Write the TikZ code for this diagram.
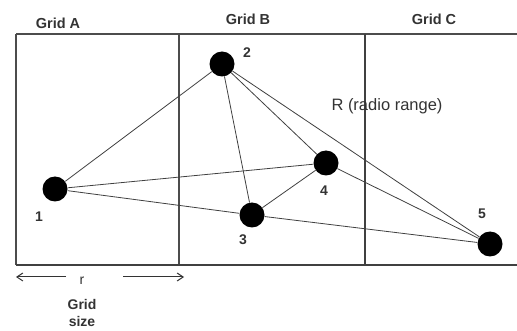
\documentclass[tikz,border=0pt]{standalone}
\usepackage{fontspec}
\setmainfont{Liberation Sans}
\usetikzlibrary{arrows.meta}
\begin{document}
\begin{tikzpicture}[x=1pt,y=-1pt,
  dot/.style={circle,fill=black,minimum size=25pt,inner sep=0pt},
  link/.style={draw=black!75,line width=0.8pt},
  gridline/.style={draw=black!70,line width=1.2pt},
  thickline/.style={draw=black!75,line width=2pt},
  numlbl/.style={font=\bfseries\fontsize{14}{16}\selectfont,text=black!80,inner sep=0pt},
  gridlbl/.style={font=\bfseries\fontsize{14.5}{17}\selectfont,text=black!80,inner sep=0pt},
  plainlbl/.style={font=\fontsize{16.5}{19}\selectfont,text=black!80,inner sep=0pt},
  dim/.style={draw=black!80,line width=1pt,-{Straight Barb[length=6pt,width=8pt]}}]
\useasboundingbox (0,0) rectangle (517,331);
% grid frame
\draw[gridline] (16,34) -- (517,34);
\draw[gridline] (16,34) -- (16,265);
\draw[gridline] (179,34) -- (179,265);
\draw[thickline] (365,34) -- (365,265);
\draw[thickline] (16,265) -- (517,265);
% grid labels
\node[gridlbl] (ga) at (58,23) {Grid A};
\node[gridlbl] (gb) at (248,19) {Grid B};
\node[gridlbl] (gc) at (434,19) {Grid C};
% radio range label
\node[plainlbl] (rr) at (387,106) {R (radio range)};
% nodes
\node[dot] (n1) at (55,189) {};
\node[dot] (n2) at (222,64) {};
\node[dot] (n3) at (252,215) {};
\node[dot] (n4) at (326,163) {};
\node[dot] (n5) at (490,244) {};
% node labels
\node[numlbl] (l1) at (39,217) {1};
\node[numlbl] (l2) at (247,53) {2};
\node[numlbl] (l3) at (243,240) {3};
\node[numlbl] (l4) at (324,191) {4};
\node[numlbl] (l5) at (482,214) {5};
% links
\draw[link] (n1) -- (n2);
\draw[link] (n1) -- (n4);
\draw[link] (n1) -- (n3);
\draw[link] (n2) -- (n3);
\draw[link] (n2) -- (n4);
\draw[link] (n2) -- (n5);
\draw[link] (n3) -- (n4);
\draw[link] (n4) -- (n5);
\draw[link] (n3) -- (n5);
% grid size dimension
\coordinate (al0) at (66,277);
\coordinate (al1) at (16,277);
\coordinate (ar0) at (123,277);
\coordinate (ar1) at (184,277);
\draw[dim] (al0) -- (al1);
\draw[dim] (ar0) -- (ar1);
\node[font=\fontsize{14}{16}\selectfont,text=black!80,inner sep=0pt] (rl) at (82,281) {r};
\node[gridlbl,align=center,font=\bfseries\fontsize{14}{17}\selectfont] (gs) at (82,313) {Grid\\size};
\end{tikzpicture}
\end{document}
